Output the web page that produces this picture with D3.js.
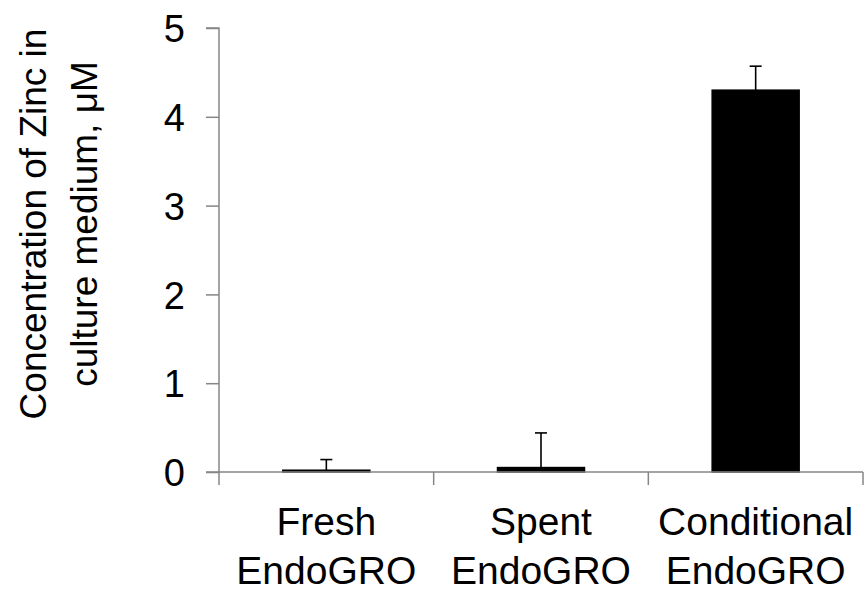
<!DOCTYPE html>
<html><head><meta charset="utf-8">
<script src="https://cdn.jsdelivr.net/npm/d3@7/dist/d3.min.js"></script>
<style>body{margin:0;background:#fff}svg{display:block}text{font-family:"Liberation Sans",Arial,sans-serif}</style>
</head><body><svg id="c" width="864" height="592"></svg>
<script>
const categories = [["Fresh","EndoGRO"],["Spent","EndoGRO"],["Conditional","EndoGRO"]];
const values = [0.02, 0.05, 4.3];
const errors = [0.12, 0.39, 0.27];
const yTicks = [0,1,2,3,4,5];

const svg = d3.select("#c");
const x0 = 219, x1 = 864, yTop = 28, yBot = 472;
const xb = d3.scaleBand().domain(d3.range(categories.length)).range([x0, x1 - 1]);
const y = d3.scaleLinear().domain([0,5]).range([yBot, yTop]);

// y axis
const ya = svg.append("g").attr("transform",`translate(${x0},0)`).call(d3.axisLeft(y).tickValues(yTicks).tickSize(13).tickPadding(21).tickFormat(d3.format("d")));
ya.select(".domain").attr("stroke","#868686").attr("stroke-width",1.5).attr("d",`M-13,${yTop}H0V${yBot}`);
ya.selectAll(".tick line").attr("stroke","#868686").attr("stroke-width",1.5);
ya.selectAll(".tick text").attr("font-size",38).attr("fill","#000").attr("font-family","Liberation Sans, Arial, sans-serif").attr("dy","0.36em");

// bars
svg.selectAll("rect.bar").data(values).join("rect").attr("class","bar")
  .attr("x",(d,i)=>xb(i)+xb.bandwidth()/2-43.5).attr("width",87)
  .attr("y",d=>y(d)).attr("height",d=>yBot-y(d)).attr("fill","#000").attr("stroke","#000").attr("stroke-width",1.5);

// x axis
svg.append("line").attr("x1",206).attr("x2",x1-1).attr("y1",yBot).attr("y2",yBot).attr("stroke","#868686").attr("stroke-width",1.5);
const bounds = d3.range(categories.length+1).map(i => i<categories.length ? xb(i) : xb(categories.length-1)+xb.bandwidth());
svg.selectAll("line.xt").data(bounds).join("line").attr("class","xt")
  .attr("x1",d=>d).attr("x2",d=>d).attr("y1",yBot).attr("y2",yBot+13).attr("stroke","#868686").attr("stroke-width",1.5);

// error bars
const eg = svg.append("g").attr("stroke","#000").attr("stroke-width",1.6);
values.forEach((v,i)=>{
  const cx = xb(i)+xb.bandwidth()/2;
  eg.append("line").attr("x1",cx).attr("x2",cx).attr("y1",y(v)).attr("y2",y(v+errors[i]));
  eg.append("line").attr("x1",cx-6).attr("x2",cx+6).attr("y1",y(v+errors[i])).attr("y2",y(v+errors[i]));
});

// category labels
categories.forEach((lines,i)=>{
  const cx = xb(i)+xb.bandwidth()/2;
  const t = svg.append("text").attr("text-anchor","middle").attr("font-size",39).attr("fill","#000");
  lines.forEach((l,j)=>t.append("tspan").attr("x",cx).attr("y",535+j*49).text(l));
});

// y title
const yt = svg.append("text").attr("transform","translate(0,224) rotate(-90)").attr("text-anchor","middle").attr("font-size",37).attr("fill","#000");
yt.append("tspan").attr("x",0).attr("y",46).text("Concentration of Zinc in");
yt.append("tspan").attr("x",0).attr("y",97).text("culture medium, μM");
</script></body></html>
